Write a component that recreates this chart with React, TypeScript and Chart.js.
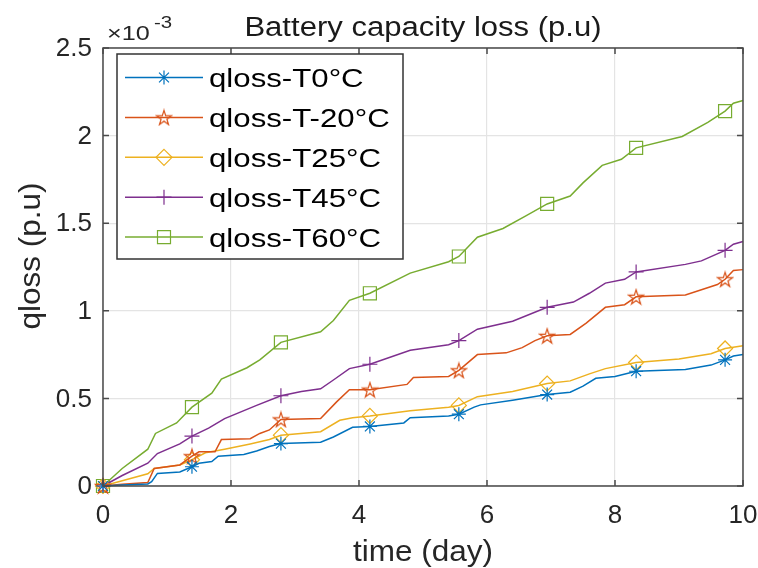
import React, { useEffect, useRef } from 'react';
import { Chart, registerables } from 'chart.js';

Chart.register(...registerables);

// ---------- data ----------
const TITLE = 'Battery capacity loss (p.u)';
const X_LABEL = 'time (day)';
const Y_LABEL = 'qloss (p.u)';
const Y_EXPONENT = '-3';
const X_TICKS = [0, 2, 4, 6, 8, 10];
const Y_TICKS = [0, 0.5, 1, 1.5, 2, 2.5];
const MARKER_DAYS = [0, 1.39, 2.78, 4.17, 5.56, 6.94, 8.33, 9.72];

const SERIES_NAMES = ['qloss-T0°C', 'qloss-T-20°C', 'qloss-T25°C', 'qloss-T45°C', 'qloss-T60°C'];
const SERIES_COLORS = ['#0072BD', '#D95319', '#EDB120', '#7E2F8E', '#77AC30'];
const SERIES_MARKERS = ['asterisk', 'pentagram', 'diamond', 'plus', 'square'];

// loss values in units of 1e-3 p.u.
const T0_DAYS = [0, 0.3, 0.7, 0.76, 0.85, 1.2, 1.39, 1.5, 1.7, 1.8, 2.2, 2.4, 2.6, 2.78, 3.4, 3.6, 3.9, 4.17, 4.7, 4.8, 5.4, 5.56, 5.8, 5.9, 6.4, 6.94, 7.3, 7.5, 7.7, 8.0, 8.33, 9.1, 9.5, 9.72, 9.85, 10];
const T0_LOSS = [0, 0.005, 0.012, 0.025, 0.072, 0.08, 0.11, 0.13, 0.14, 0.17, 0.18, 0.2, 0.225, 0.242, 0.25, 0.28, 0.335, 0.34, 0.36, 0.39, 0.4, 0.41, 0.45, 0.463, 0.49, 0.522, 0.535, 0.57, 0.615, 0.625, 0.655, 0.665, 0.69, 0.72, 0.742, 0.75];

const TM20_DAYS = [0, 0.3, 0.7, 0.8, 1.2, 1.39, 1.5, 1.75, 1.85, 2.3, 2.45, 2.6, 2.78, 3.4, 3.65, 3.85, 4.17, 4.75, 4.85, 5.4, 5.56, 5.85, 6.3, 6.55, 6.75, 6.94, 7.3, 7.55, 7.85, 8.15, 8.33, 9.1, 9.6, 9.72, 9.85, 10];
const TM20_LOSS = [0, 0.01, 0.02, 0.1, 0.12, 0.17, 0.195, 0.195, 0.265, 0.27, 0.3, 0.32, 0.38, 0.385, 0.48, 0.55, 0.55, 0.58, 0.62, 0.625, 0.66, 0.75, 0.76, 0.79, 0.83, 0.857, 0.865, 0.93, 1.02, 1.035, 1.08, 1.09, 1.15, 1.18, 1.23, 1.235];

const T25_DAYS = [0, 0.3, 0.7, 0.8, 1.2, 1.39, 1.6, 1.9, 2.3, 2.6, 2.78, 3.4, 3.7, 3.9, 4.17, 4.8, 5.4, 5.56, 5.85, 6.4, 6.94, 7.3, 7.6, 7.85, 8.33, 9.0, 9.5, 9.72, 10];
const T25_LOSS = [0, 0.03, 0.07, 0.1, 0.12, 0.15, 0.19, 0.21, 0.24, 0.265, 0.29, 0.31, 0.375, 0.39, 0.4, 0.43, 0.45, 0.46, 0.51, 0.54, 0.585, 0.6, 0.64, 0.67, 0.705, 0.725, 0.755, 0.785, 0.8];

const T45_DAYS = [0, 0.3, 0.7, 0.85, 1.2, 1.39, 1.65, 1.9, 2.4, 2.78, 3.1, 3.4, 3.6, 3.85, 4.17, 4.8, 5.4, 5.56, 5.85, 6.4, 6.94, 7.35, 7.6, 7.85, 8.15, 8.33, 9.1, 9.35, 9.72, 9.85, 10];
const T45_LOSS = [0, 0.06, 0.13, 0.185, 0.24, 0.285, 0.33, 0.385, 0.46, 0.515, 0.54, 0.555, 0.605, 0.67, 0.695, 0.775, 0.806, 0.83, 0.895, 0.94, 1.02, 1.05, 1.1, 1.158, 1.18, 1.222, 1.265, 1.285, 1.345, 1.38, 1.395];

const T60_DAYS = [0, 0.3, 0.7, 0.82, 1.15, 1.39, 1.7, 1.85, 2.25, 2.45, 2.78, 3.4, 3.6, 3.85, 4.17, 4.8, 5.4, 5.56, 5.85, 6.25, 6.6, 6.94, 7.3, 7.5, 7.8, 8.1, 8.33, 9.05, 9.45, 9.72, 9.85, 10];
const T60_LOSS = [0, 0.1, 0.21, 0.3, 0.36, 0.45, 0.53, 0.61, 0.675, 0.72, 0.82, 0.88, 0.945, 1.06, 1.1, 1.215, 1.28, 1.31, 1.42, 1.47, 1.54, 1.61, 1.655, 1.73, 1.83, 1.865, 1.93, 1.995, 2.075, 2.14, 2.185, 2.2];

const SERIES_DAYS = [T0_DAYS, TM20_DAYS, T25_DAYS, T45_DAYS, T60_DAYS];
const SERIES_LOSS = [T0_LOSS, TM20_LOSS, T25_LOSS, T45_LOSS, T60_LOSS];

// ---------- styling helpers ----------
const FONT = "'Liberation Sans', Arial, Helvetica, sans-serif";
const TEXT = '#262626';
const AXIS = '#4a4a4a';

function makePentagram(color: string): HTMLCanvasElement {
  const c = document.createElement('canvas');
  c.width = 18;
  c.height = 18;
  const g = c.getContext('2d')!;
  g.strokeStyle = color;
  g.lineWidth = 1.2;
  g.beginPath();
  for (let k = 0; k < 10; k++) {
    const r = k % 2 === 0 ? 7.8 : 3.0;
    const a = -Math.PI / 2 + (k * Math.PI) / 5;
    const px = 9 + r * Math.cos(a);
    const py = 9.8 + r * Math.sin(a);
    if (k === 0) g.moveTo(px, py);
    else g.lineTo(px, py);
  }
  g.closePath();
  g.stroke();
  return c;
}

function chartPointStyle(kind: string, color: string): any {
  switch (kind) {
    case 'asterisk': return 'star';
    case 'pentagram': return makePentagram(color);
    case 'diamond': return 'rectRot';
    case 'plus': return 'cross';
    default: return 'rect';
  }
}

function chartPointRadius(kind: string): number {
  switch (kind) {
    case 'asterisk': return 7;
    case 'diamond': return 7.5;
    case 'plus': return 7.5;
    case 'square': return 9.2;
    default: return 8;
  }
}

function drawMarker(ctx: CanvasRenderingContext2D, kind: string, x: number, y: number, color: string, img: any) {
  ctx.save();
  ctx.strokeStyle = color;
  ctx.lineWidth = 1.2;
  ctx.beginPath();
  if (kind === 'asterisk') {
    const r = 7;
    for (let k = 0; k < 4; k++) {
      const a = (k * Math.PI) / 4;
      ctx.moveTo(x - r * Math.cos(a), y - r * Math.sin(a));
      ctx.lineTo(x + r * Math.cos(a), y + r * Math.sin(a));
    }
    ctx.stroke();
  } else if (kind === 'pentagram') {
    ctx.drawImage(img, x - img.width / 2, y - img.height / 2);
  } else if (kind === 'diamond') {
    const r = 8;
    ctx.moveTo(x, y - r);
    ctx.lineTo(x + r, y);
    ctx.lineTo(x, y + r);
    ctx.lineTo(x - r, y);
    ctx.closePath();
    ctx.stroke();
  } else if (kind === 'plus') {
    const r = 7.5;
    ctx.moveTo(x - r, y);
    ctx.lineTo(x + r, y);
    ctx.moveTo(x, y - r);
    ctx.lineTo(x, y + r);
    ctx.stroke();
  } else {
    const h = 6.5;
    ctx.rect(x - h, y - h, 2 * h, 2 * h);
    ctx.stroke();
  }
  ctx.restore();
}

function drawText(
  ctx: CanvasRenderingContext2D, text: string, x: number, y: number,
  size: number, sx: number, align: CanvasTextAlign, baseline: CanvasTextBaseline, color: string
) {
  ctx.save();
  ctx.font = `${size}px ${FONT}`;
  ctx.fillStyle = color;
  ctx.textAlign = align;
  ctx.textBaseline = baseline;
  ctx.translate(x, y);
  ctx.scale(sx, 1);
  ctx.fillText(text, 0, 0);
  ctx.restore();
}

function isMarkerDay(d: number): boolean {
  return MARKER_DAYS.some((m) => Math.abs(m - d) < 1e-6);
}

export default function App() {
  const ref = useRef<HTMLCanvasElement | null>(null);

  useEffect(() => {
    if (!ref.current) return;
    const pointImages = SERIES_MARKERS.map((k, i) => chartPointStyle(k, SERIES_COLORS[i]));

    const datasets = SERIES_NAMES.map((name, i) => ({
      label: name,
      data: SERIES_DAYS[i].map((d, j) => ({ x: d, y: SERIES_LOSS[i][j] })),
      borderColor: SERIES_COLORS[i],
      borderWidth: 1.5,
      pointStyle: pointImages[i],
      pointRadius: (c: any) => (c.raw && isMarkerDay(c.raw.x) ? chartPointRadius(SERIES_MARKERS[i]) : 0),
      pointHoverRadius: 0,
      pointBorderColor: SERIES_COLORS[i],
      pointBackgroundColor: 'rgba(0,0,0,0)',
      pointBorderWidth: 1.2,
      tension: 0,
      fill: false,
      clip: false as any,
    }));

    const framePlugin = {
      id: 'matlabFrame',
      afterDraw(chart: any) {
        const ctx: CanvasRenderingContext2D = chart.ctx;
        const { left, right, top, bottom } = chart.chartArea;
        const xs = chart.scales.x;
        const ys = chart.scales.y;

        // box
        ctx.save();
        ctx.strokeStyle = AXIS;
        ctx.lineWidth = 1.5;
        ctx.strokeRect(left, top, right - left, bottom - top);
        // inward ticks
        ctx.beginPath();
        const tl = 6;
        X_TICKS.forEach((v) => {
          const px = xs.getPixelForValue(v);
          ctx.moveTo(px, bottom);
          ctx.lineTo(px, bottom - tl);
          ctx.moveTo(px, top);
          ctx.lineTo(px, top + tl);
        });
        Y_TICKS.forEach((v) => {
          const py = ys.getPixelForValue(v);
          ctx.moveTo(left, py);
          ctx.lineTo(left + tl, py);
          ctx.moveTo(right, py);
          ctx.lineTo(right - tl, py);
        });
        ctx.stroke();
        ctx.restore();

        // tick labels
        X_TICKS.forEach((v) => {
          drawText(ctx, String(v), xs.getPixelForValue(v), bottom + 37, 26, 1, 'center', 'alphabetic', TEXT);
        });
        Y_TICKS.forEach((v) => {
          drawText(ctx, String(v), left - 11, ys.getPixelForValue(v) + 1, 26, 1, 'right', 'middle', TEXT);
        });

        // exponent
        drawText(ctx, '×10', left + 4, top - 8, 21, 1.2, 'left', 'alphabetic', TEXT);
        drawText(ctx, Y_EXPONENT, left + 51, top - 20, 17, 1.2, 'left', 'alphabetic', TEXT);

        // title
        const cx = (left + right) / 2;
        drawText(ctx, TITLE, cx, top - 12, 27, 1.15, 'center', 'alphabetic', '#1a1a1a');
        // axis labels
        drawText(ctx, X_LABEL, cx, bottom + 75, 30, 1.05, 'center', 'alphabetic', TEXT);
        ctx.save();
        ctx.translate(40, 256);
        ctx.rotate(-Math.PI / 2);
        drawText(ctx, Y_LABEL, 0, 0, 30, 1.05, 'center', 'alphabetic', TEXT);
        ctx.restore();

        // legend
        const lx = left + 14;
        const ly = top + 6;
        const lw = 286;
        const lh = 205;
        ctx.save();
        ctx.fillStyle = '#ffffff';
        ctx.fillRect(lx, ly, lw, lh);
        ctx.strokeStyle = '#333333';
        ctx.lineWidth = 1.5;
        ctx.strokeRect(lx, ly, lw, lh);
        ctx.restore();
        SERIES_NAMES.forEach((name, i) => {
          const ry = ly + 23.5 + i * 39.9;
          ctx.save();
          ctx.strokeStyle = SERIES_COLORS[i];
          ctx.lineWidth = 1.5;
          ctx.beginPath();
          ctx.moveTo(lx + 8, ry);
          ctx.lineTo(lx + 86, ry);
          ctx.stroke();
          ctx.restore();
          drawMarker(ctx, SERIES_MARKERS[i], lx + 47, ry, SERIES_COLORS[i], pointImages[i]);
          drawText(ctx, name, lx + 92, ry + 9.5, 26, 1.2, 'left', 'alphabetic', '#000000');
        });
      },
    };

    const chart = new Chart(ref.current, {
      type: 'line',
      data: { datasets: datasets as any },
      options: {
        responsive: false,
        animation: false,
        events: [],
        layout: { padding: { top: 48, right: 15, left: 0, bottom: 0 } },
        plugins: {
          legend: { display: false },
          title: { display: false },
          tooltip: { enabled: false },
        },
        scales: {
          x: {
            type: 'linear',
            min: 0,
            max: 10,
            afterBuildTicks: (s: any) => { s.ticks = X_TICKS.map((v) => ({ value: v })); },
            afterFit: (s: any) => { s.height = 82; },
            ticks: { display: false },
            grid: { color: '#e4e4e4', lineWidth: 1.2, drawTicks: false },
            border: { display: false },
          },
          y: {
            type: 'linear',
            min: 0,
            max: 2.5,
            afterBuildTicks: (s: any) => { s.ticks = Y_TICKS.map((v) => ({ value: v })); },
            afterFit: (s: any) => { s.width = 103; },
            ticks: { display: false },
            grid: { color: '#e4e4e4', lineWidth: 1.2, drawTicks: false },
            border: { display: false },
          },
        },
      },
      plugins: [framePlugin],
    });

    return () => chart.destroy();
  }, []);

  return (
    <div style={{ position: 'absolute', left: 0, top: 0, width: 758, height: 568, background: '#ffffff' }}>
      <canvas ref={ref} width={758} height={568} style={{ display: 'block' }} />
    </div>
  );
}
